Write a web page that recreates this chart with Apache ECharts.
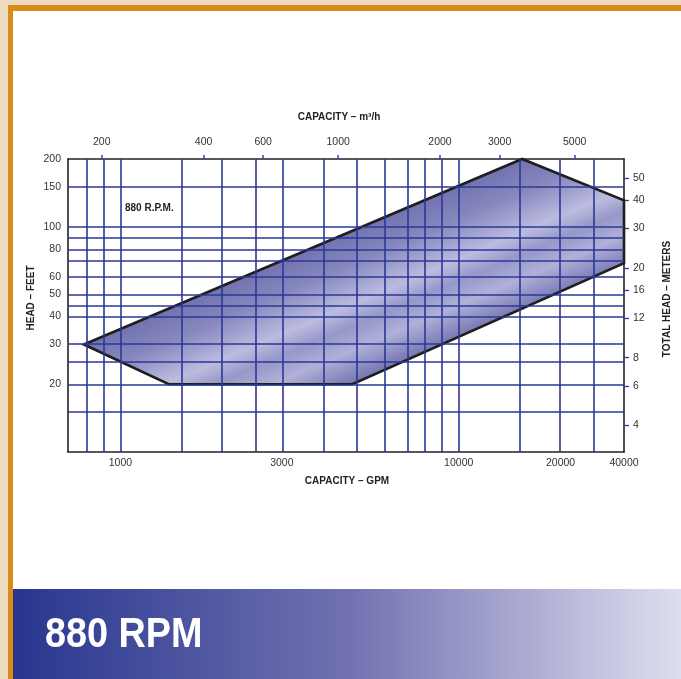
<!DOCTYPE html>
<html>
<head>
<meta charset="utf-8">
<script src="https://cdn.jsdelivr.net/npm/echarts@6/dist/echarts.min.js"></script>
<style>
html,body{margin:0;padding:0;background:#eedcc2;}
#chart{width:681px;height:679px;}
</style>
</head>
<body>
<div id="chart"></div>
<script>
// ---- data ----
const gpmMin = 700, gpmMax = 30800;           // capacity range, GPM
const feetMin = 10, feetMax = 200;            // head range, feet
const gpmGrid = [800, 900, 1000, 1500, 2000, 2500, 3000, 4000, 5000, 6000, 7000, 8000, 9000, 10000, 15000, 20000, 25000];
const feetGrid = [15, 20, 25, 30, 40, 45, 50, 60, 70, 80, 90, 100, 150];
const gpmLabelValues = [1000, 3000, 10000, 20000, 30800];
const gpmLabelTexts = ['1000', '3000', '10000', '20000', '40000'];
const feetLabels = [20, 30, 40, 50, 60, 80, 100, 150, 200];
const m3hLabels = [200, 400, 600, 1000, 2000, 3000, 5000];
const meterLabels = [4, 6, 8, 12, 16, 20, 30, 40, 50];
const envelopeGpm = [780, 15400, 30800, 30800, 4850, 1390];
const envelopeFeet = [30, 200, 131, 69, 20, 20];

const GPM_PER_M3H = 4.4029;
const M_PER_FT = 0.3048;
const lg = Math.log10;
const font = "'Liberation Sans', Arial, Helvetica, sans-serif";
const gridColor = '#2a3896';

const chart = echarts.init(document.getElementById('chart'));

const envelopeData = envelopeGpm.map((g, i) => [lg(g), lg(envelopeFeet[i])]);

function labelFor(values, texts) {
  return function (v) {
    const i = values.findIndex(x => Math.abs(lg(x) - v) < 1e-6);
    return i >= 0 ? (texts ? texts[i] : String(values[i])) : '';
  };
}

const labelStyle = { color: '#333', fontSize: 10.5, fontFamily: font };
const frameLine = { show: true, onZero: false, lineStyle: { color: '#222', width: 1.6 } };

const option = {
  backgroundColor: '#eedcc2',
  animation: false,
  grid: { left: 68, right: 57, top: 159, bottom: 227, containLabel: false },
  xAxis: [
    {
      type: 'value', position: 'bottom', min: lg(gpmMin), max: lg(gpmMax),
      axisLine: frameLine, axisTick: { show: false }, splitLine: { show: false },
      axisLabel: Object.assign({ customValues: gpmLabelValues.map(lg), formatter: labelFor(gpmLabelValues, gpmLabelTexts), margin: 6, showMaxLabel: true }, labelStyle)
    },
    {
      type: 'value', position: 'top', min: lg(gpmMin / GPM_PER_M3H), max: lg(gpmMax / GPM_PER_M3H),
      axisLine: frameLine,
      axisTick: { show: true, customValues: m3hLabels.map(lg), length: 4, lineStyle: { color: '#3344aa', width: 1.5 } },
      splitLine: { show: false },
      axisLabel: Object.assign({ customValues: m3hLabels.map(lg), formatter: labelFor(m3hLabels), margin: 11 }, labelStyle)
    }
  ],
  yAxis: [
    {
      type: 'value', position: 'left', min: lg(feetMin), max: lg(feetMax),
      axisLine: frameLine, axisTick: { show: false }, splitLine: { show: false },
      axisLabel: Object.assign({ customValues: feetLabels.map(lg), formatter: labelFor(feetLabels), margin: 7, showMaxLabel: true }, labelStyle)
    },
    {
      type: 'value', position: 'right', min: lg(feetMin * M_PER_FT), max: lg(feetMax * M_PER_FT),
      axisLine: frameLine,
      axisTick: { show: true, customValues: meterLabels.map(lg), length: 5, lineStyle: { color: '#2d3b97', width: 1.3 } },
      splitLine: { show: false },
      axisLabel: Object.assign({ customValues: meterLabels.map(lg), formatter: labelFor(meterLabels), margin: 9 }, labelStyle)
    }
  ],
  series: [
    {
      type: 'custom',
      xAxisIndex: 0, yAxisIndex: 0,
      z: 2,
      data: envelopeData,
      encode: { x: 0, y: 1 },
      renderItem: function (params, api) {
        if (params.dataIndex !== 0) return null;
        const pts = envelopeData.map(p => api.coord(p));
        const c0 = pts[0], c1 = pts[1], c4 = pts[4];
        let ux = c1[0] - c0[0], uy = c1[1] - c0[1];
        const ul = Math.hypot(ux, uy); ux /= ul; uy /= ul;
        const nx = -uy, ny = ux; // normal pointing down-right
        const d = (c4[0] - c0[0]) * nx + (c4[1] - c0[1]) * ny;
        const g = new echarts.graphic.LinearGradient(
          c0[0], c0[1], c0[0] + nx * d, c0[1] + ny * d,
          [
            { offset: 0, color: '#7272b0' },
            { offset: 0.22, color: '#8888bf' },
            { offset: 0.48, color: '#bcbce0' },
            { offset: 0.62, color: '#9797c9' },
            { offset: 0.78, color: '#b0b0d8' },
            { offset: 1, color: '#7474b2' }
          ], true);
        return {
          type: 'polygon',
          shape: { points: pts },
          style: { fill: g, stroke: '#1e1e1e', lineWidth: 2.6, lineJoin: 'miter' }
        };
      }
    },
    {
      type: 'line',
      xAxisIndex: 0, yAxisIndex: 0,
      data: [],
      z: 3,
      markLine: {
        silent: true,
        symbol: ['none', 'none'],
        label: { show: false },
        lineStyle: { color: gridColor, width: 1.6, type: 'solid', opacity: 1 },
        emphasis: { disabled: true },
        data: gpmGrid.map(v => ({ xAxis: lg(v) })).concat(feetGrid.map(v => ({ yAxis: lg(v) })))
      }
    }
  ],
  graphic: [
    { type: 'rect', z: -30, silent: true, shape: { x: 8, y: 5, width: 673, height: 674 }, style: { fill: '#d98b17' } },
    { type: 'rect', z: -29, silent: true, shape: { x: 13, y: 11, width: 668, height: 668 }, style: { fill: '#ffffff' } },
    {
      type: 'rect', z: -28, silent: true, shape: { x: 13, y: 589, width: 668, height: 90 },
      style: {
        fill: new echarts.graphic.LinearGradient(0, 0, 1, 0, [
          { offset: 0, color: '#27368e' },
          { offset: 0.5, color: '#7171b0' },
          { offset: 1, color: '#dedef0' }
        ])
      }
    },
    {
      type: 'text', z: 50, silent: true, x: 45, y: 635, scaleX: 0.9, originX: 0, originY: 0,
      style: { text: '880 RPM', fill: '#ffffff', font: 'bold 42px ' + font, textAlign: 'left', textVerticalAlign: 'middle' }
    },
    {
      type: 'text', z: 50, silent: true, x: 339, y: 117,
      style: { text: 'CAPACITY – m³/h', fill: '#222', font: 'bold 10px ' + font, textAlign: 'center', textVerticalAlign: 'middle' }
    },
    {
      type: 'text', z: 50, silent: true, x: 347, y: 481,
      style: { text: 'CAPACITY – GPM', fill: '#222', font: 'bold 10px ' + font, textAlign: 'center', textVerticalAlign: 'middle' }
    },
    {
      type: 'text', z: 50, silent: true, x: 31, y: 298, rotation: Math.PI / 2,
      style: { text: 'HEAD – FEET', fill: '#222', font: 'bold 10px ' + font, textAlign: 'center', textVerticalAlign: 'middle' }
    },
    {
      type: 'text', z: 50, silent: true, x: 667, y: 299, rotation: Math.PI / 2,
      style: { text: 'TOTAL HEAD – METERS', fill: '#222', font: 'bold 10px ' + font, textAlign: 'center', textVerticalAlign: 'middle' }
    },
    {
      type: 'text', z: 50, silent: true, x: 125, y: 208,
      style: { text: '880 R.P.M.', fill: '#222', font: 'bold 10px ' + font, textAlign: 'left', textVerticalAlign: 'middle' }
    }
  ]
};

chart.setOption(option);
</script>
</body>
</html>
